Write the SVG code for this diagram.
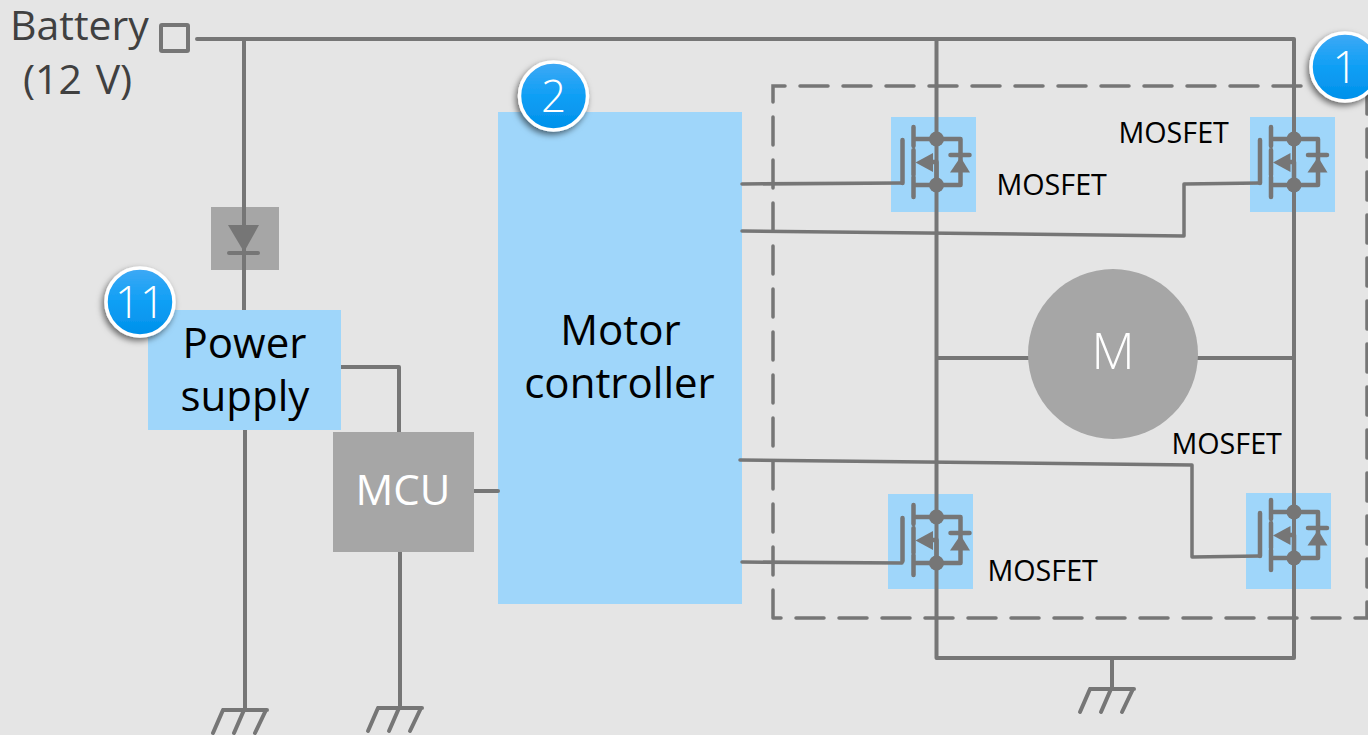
<svg xmlns="http://www.w3.org/2000/svg" width="1368" height="735" viewBox="0 0 1368 735">
<style>
text{font-family:"Open Sans","Noto Sans","Liberation Sans",sans-serif}
.w{fill:none;stroke:#767676;stroke-width:4;stroke-linecap:round;stroke-linejoin:round}
.t{stroke-width:3.500}
.s{stroke-width:4.500}
.f{fill:#767676}
.b{fill:#9fd6fa}
.g{fill:#a6a6a6}
.lbl{font-size:28.700px;fill:#000}
.big{font-size:42px;fill:#000;text-anchor:middle}
.wt{font-size:50px;fill:#fff;text-anchor:middle;font-weight:350}
.bt{font-size:41px;fill:#404040}
.num{font-size:44px;fill:#fff;text-anchor:middle;font-weight:350}
.bd{fill:url(#bg);stroke:#fff;stroke-width:3.500;filter:url(#sh)}
</style>
<defs>
<linearGradient id="bg" x1="0" y1="0" x2="0" y2="1"><stop offset="0" stop-color="#3fa9f5"/><stop offset="0.5" stop-color="#0f9ff5"/><stop offset="1" stop-color="#0090ea"/></linearGradient>
<filter id="sh" x="-30%" y="-30%" width="160%" height="160%"><feDropShadow dx="-2" dy="3" stdDeviation="3" flood-color="#000" flood-opacity="0.55"/></filter>
<g id="fet">
<path class="w s" d="M-34 44V1M-23 -12V7M-23 11V36M-23 38V58M-23 0H0M-23 46H0M0 0H24V46H0M-4 23H0V46"/>
<circle class="f" r="7.500"/><circle class="f" cy="46" r="7.500"/>
<path class="f" d="M-21 23.500L-3.500 14V33Z"/>
<path class="f" d="M24 18L13.500 33.500H33.500Z"/>
<path class="w s" d="M14 16H33"/>
</g>
<g id="gnd"><path class="w" d="M-22 0H22M-22 0L-32 23M-1 0L-11 23M21 0L10 23"/></g>
</defs>
<rect width="1368" height="735" fill="#e5e5e5"/>
<path id="frame" d="M773 618V86H1367M1367 86V618H773" fill="none" stroke="#767676" stroke-width="3.500" stroke-dasharray="28 15" stroke-linecap="round"/>
<g id="n-controller"><rect class="b" x="498" y="112" width="244" height="492"/><text class="big" x="620.500" y="345">Motor</text><text class="big" x="619.500" y="398">controller</text></g>
<g id="n-diode"><rect class="g" x="211" y="207" width="68" height="63"/></g>
<g id="n-q1"><rect class="b" x="891" y="117" width="85" height="95"/></g>
<g id="n-q2"><rect class="b" x="1250" y="117" width="85" height="95"/></g>
<g id="n-q3"><rect class="b" x="888" y="494" width="85" height="95"/></g>
<g id="n-q4"><rect class="b" x="1246" y="493" width="85" height="96"/></g>
<g id="connectors">
<path class="w" d="M197 39H1294V658H936.500V39M244 39V310M245 430V710M341 367H399V432M400 552V708M474 491H498M936.500 358H1030M1197 358H1294M1112 658V689"/>
<path class="w t" d="M742 184L902 183M742 231L1184 236V184L1260 183M740 460L1192 465V557L1260 556M742 562L902 563"/>
<path class="f" d="M228 225H259L244 252Z"/><path class="w" d="M229 253H258"/>
<use href="#fet" x="936.500" y="139"/><use href="#fet" x="1294" y="139"/><use href="#fet" x="936.500" y="517"/><use href="#fet" x="1294" y="512"/>
<use href="#gnd" x="245" y="710"/><use href="#gnd" x="400" y="708"/><use href="#gnd" x="1112" y="689"/>
</g>
<g id="n-battery"><text class="bt" x="10" y="40">Battery</text><text class="bt" x="23" y="94" word-spacing="3">(12 V)</text><rect x="161" y="25" width="27" height="26" fill="none" stroke="#767676" stroke-width="4" rx="1"/></g>
<g id="n-power"><rect class="b" x="148" y="310" width="193" height="120"/><text class="big" x="244.500" y="358">Power</text><text class="big" x="245" y="411">supply</text></g>
<g id="n-mcu"><rect class="g" x="333" y="432" width="141" height="120"/><text class="big" x="403" y="505" style="fill:#fff">MCU</text></g>
<g id="n-motor"><circle class="g" cx="1113" cy="354" r="85"/><text class="wt" x="1113" y="369">M</text></g>
<g id="labels"><text class="lbl" x="996.500" y="195">MOSFET</text><text class="lbl" x="1118.500" y="143">MOSFET</text><text class="lbl" x="1171.500" y="454">MOSFET</text><text class="lbl" x="987.500" y="581">MOSFET</text></g>
<g id="badge-1"><circle class="bd" cx="1345" cy="67" r="34"/><text class="num" x="1345" y="83">1</text></g>
<g id="badge-2"><circle class="bd" cx="553.500" cy="96" r="34"/><text class="num" x="553.500" y="112">2</text></g>
<g id="badge-11"><circle class="bd" cx="140" cy="302" r="34"/><text class="num" x="140" y="318">11</text></g>
</svg>
